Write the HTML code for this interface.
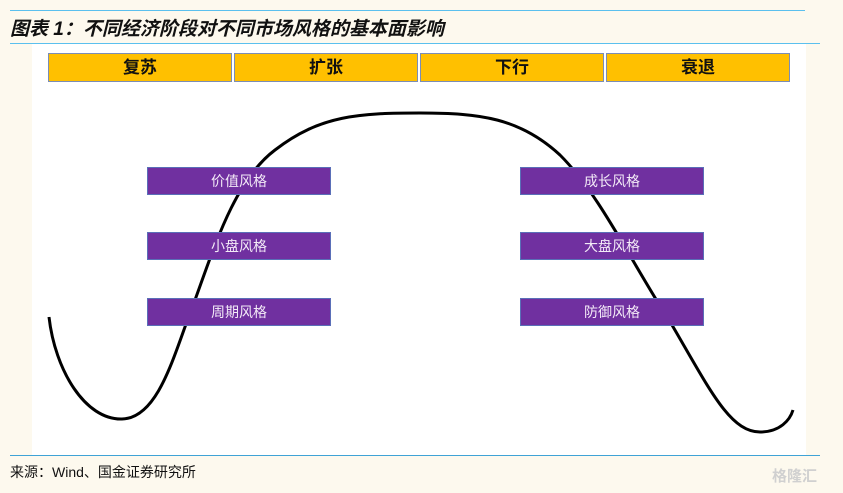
<!DOCTYPE html>
<html><head><meta charset="utf-8"><style>
body{margin:0;width:843px;height:493px;background:#fdf9ee;position:relative;overflow:hidden;font-family:"Liberation Sans","Noto Sans CJK SC",sans-serif}
.a{position:absolute}
.h{position:absolute;top:53px;height:29px;width:184px;background:#ffc000;border:1px solid #7b8db5;box-sizing:border-box;text-align:center;line-height:27px;font-size:17px;font-weight:bold;color:#111}
.p{position:absolute;height:28px;width:184px;background:#7030a0;border:1px solid #5a6fb8;box-sizing:border-box;text-align:center;line-height:26px;font-size:14px;color:#f3eaf7}
</style></head><body>
<div class="a" style="left:10px;top:10px;width:795px;height:1px;background:#5bc0ee"></div>
<div class="a" style="left:10px;top:14px;font-size:19px;font-weight:bold;font-style:italic;color:#111">图表 1：不同经济阶段对不同市场风格的基本面影响</div>
<div class="a" style="left:32px;top:44px;width:774px;height:411px;background:#fff"></div>
<div class="a" style="left:10px;top:43px;width:810px;height:1px;background:#5bc0ee"></div>
<div class="h" style="left:48px">复苏</div>
<div class="h" style="left:234px">扩张</div>
<div class="h" style="left:420px">下行</div>
<div class="h" style="left:606px">衰退</div>
<svg class="a" style="left:0;top:0" width="843" height="493">
<path d="M49,317 C55,370 85,420 122,419 C160,418 175,350 195,300 C215,245 235,180 275,150 C320,115 360,113 420,113 C480,113 520,118 560,155 C600,195 630,260 672,325 C710,390 730,432 760,432 C780,432 790,420 793,410" fill="none" stroke="#000" stroke-width="3"/>
</svg>
<div class="p" style="left:147px;top:167px">价值风格</div>
<div class="p" style="left:147px;top:232px">小盘风格</div>
<div class="p" style="left:147px;top:298px">周期风格</div>
<div class="p" style="left:520px;top:167px">成长风格</div>
<div class="p" style="left:520px;top:232px">大盘风格</div>
<div class="p" style="left:520px;top:298px">防御风格</div>
<div class="a" style="left:10px;top:455px;width:810px;height:1px;background:#3fa3d6"></div>
<div class="a" style="left:10px;top:462px;font-size:14px;color:#111">来源：Wind、国金证券研究所</div>
<div class="a" style="left:772px;top:465px;font-size:15px;color:#d0d0d0;font-weight:bold">格隆汇</div>
</body></html>
